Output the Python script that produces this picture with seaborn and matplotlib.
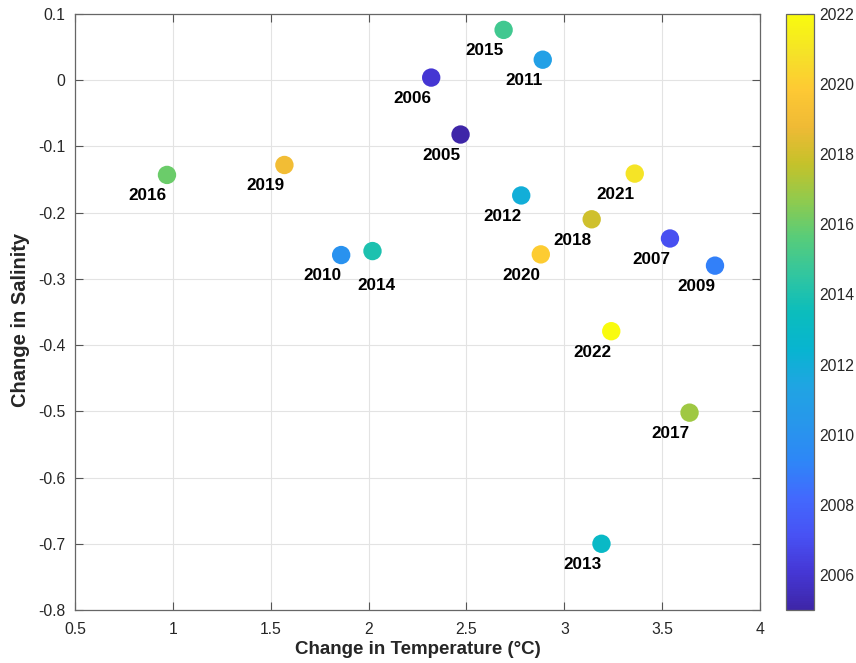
import numpy as np
import pandas as pd
import matplotlib
matplotlib.use("Agg")
import matplotlib.pyplot as plt
from matplotlib.colors import LinearSegmentedColormap, Normalize
from matplotlib.cm import ScalarMappable
import seaborn as sns

# Yearly change in temperature and salinity
years = [2005, 2006, 2007, 2009, 2010, 2011, 2012, 2013, 2014,
         2015, 2016, 2017, 2018, 2019, 2020, 2021, 2022]
temp_change = [2.47, 2.32, 3.54, 3.77, 1.86, 2.89, 2.78, 3.19, 2.02,
               2.69, 0.97, 3.64, 3.14, 1.57, 2.88, 3.36, 3.24]
sal_change = [-0.082, 0.004, -0.239, -0.280, -0.264, 0.031, -0.174, -0.700, -0.258,
              0.076, -0.143, -0.502, -0.210, -0.128, -0.263, -0.141, -0.379]

xticks = [0.5, 1, 1.5, 2, 2.5, 3, 3.5, 4]
yticks = [-0.8, -0.7, -0.6, -0.5, -0.4, -0.3, -0.2, -0.1, 0, 0.1]
cbar_ticks = [2006, 2008, 2010, 2012, 2014, 2016, 2018, 2020, 2022]

# Parula-style colormap anchors
parula_anchors = [
    (0.2422, 0.1504, 0.6603), (0.2706, 0.2147, 0.8364), (0.2810, 0.3228, 0.9579),
    (0.2602, 0.4123, 0.9952), (0.1786, 0.5289, 0.9682), (0.1540, 0.5902, 0.9218),
    (0.1248, 0.6459, 0.8883), (0.0297, 0.7082, 0.8163), (0.0433, 0.7411, 0.7394),
    (0.1938, 0.7758, 0.6251), (0.3406, 0.8008, 0.4789), (0.5616, 0.7942, 0.3045),
    (0.7738, 0.7598, 0.1646), (0.9393, 0.7288, 0.2100), (0.9952, 0.7893, 0.2028),
    (0.9610, 0.8890, 0.1537), (0.9763, 0.9831, 0.0538),
]
parula = LinearSegmentedColormap.from_list("parula", parula_anchors, N=256)

df = pd.DataFrame({"year": years, "dT": temp_change, "dS": sal_change})

sns.set_theme(style="white")
plt.rcParams["font.family"] = ["Liberation Sans", "DejaVu Sans"]
plt.rcParams["axes.unicode_minus"] = False

fig = plt.figure(figsize=(8.56, 6.63), dpi=100)
W, H = 856, 663
ax = fig.add_axes([75 / W, 1 - 610 / H, (760 - 75) / W, (610 - 14) / H])
cax = fig.add_axes([786 / W, 1 - 610 / H, (814 - 786) / W, (610 - 14) / H])

vmin, vmax = 2005, 2022
sns.scatterplot(data=df, x="dT", y="dS", hue="year", palette=parula,
                hue_norm=(vmin, vmax), s=175, linewidth=0, legend=False,
                ax=ax, zorder=3)

# Year labels sit below-left of each marker; 2014 is nudged to avoid 2010
for yr, xv, yv in zip(years, temp_change, sal_change):
    if yr == 2014:
        offset, ha = (2.5, -24.5), "center"
    else:
        offset, ha = (0, -15), "right"
    ax.annotate(str(yr), (xv, yv), xytext=offset, textcoords="offset points",
                ha=ha, va="center", fontsize=12.3, fontweight="bold",
                color="black", zorder=4)

ax.set_xlim(0.5, 4)
ax.set_ylim(-0.8, 0.1)
ax.set_xticks(xticks)
ax.set_yticks(yticks)
ax.set_xticklabels([f"{v:g}" for v in xticks])
ax.set_yticklabels([f"{v:g}" for v in yticks])
ax.grid(True, color="#e3e3e3", linewidth=0.8, zorder=0)
ax.set_axisbelow(True)
ax.tick_params(axis="both", direction="in", length=6, width=0.8,
               color="#555555", labelsize=11.3, labelcolor="#262626",
               top=True, right=True, bottom=True, left=True)
ax.tick_params(axis="x", pad=8.5)
ax.tick_params(axis="y", pad=7)
for sp in ax.spines.values():
    sp.set_color("#666666")
    sp.set_linewidth(0.9)

ax.set_xlabel("Change in Temperature (°C)", fontsize=13.5, fontweight="bold",
              color="#262626", labelpad=3)
ax.set_ylabel("Change in Salinity", fontsize=14.5, fontweight="bold",
              color="#262626", labelpad=3)
ax.yaxis.set_label_coords(-0.066, 0.487)

sm = ScalarMappable(norm=Normalize(vmin, vmax), cmap=parula)
cb = fig.colorbar(sm, cax=cax)
cb.set_ticks(cbar_ticks)
cb.ax.tick_params(direction="in", length=6, width=0.8, color="#444444",
                  labelsize=11.3, labelcolor="#262626")
cb.outline.set_edgecolor("#666666")
cb.outline.set_linewidth(0.9)

fig.savefig("out.png", dpi=100)
